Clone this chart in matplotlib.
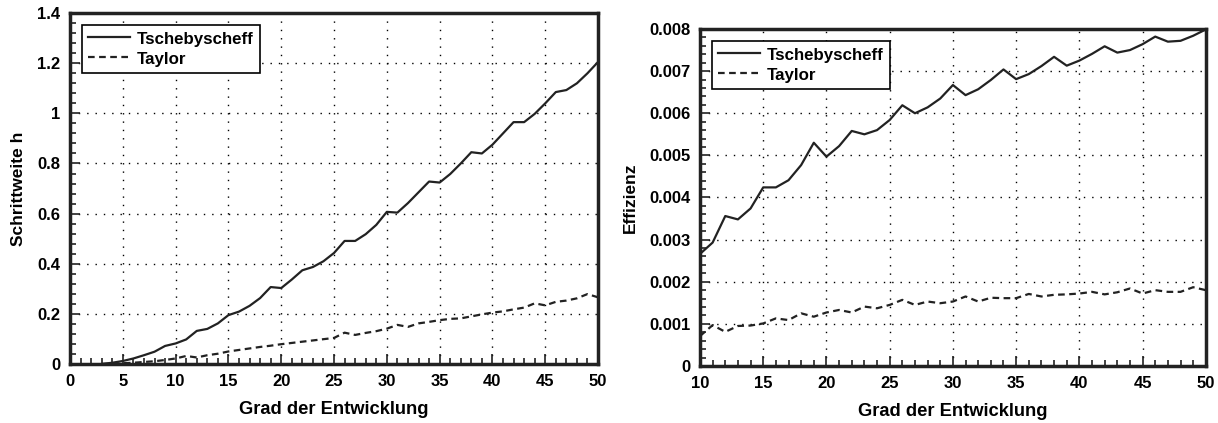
import matplotlib
matplotlib.use("Agg")
import matplotlib.pyplot as plt
from matplotlib.ticker import MultipleLocator

# Schrittweite h (links), Grad 3..50
n_h = list(range(3, 51))
tscheb_h = [0.0, 0.005, 0.012, 0.022, 0.035, 0.049, 0.072, 0.082, 0.098, 0.132,
            0.140, 0.162, 0.195, 0.209, 0.232, 0.263, 0.307, 0.303, 0.337, 0.374,
            0.387, 0.410, 0.443, 0.491, 0.491, 0.518, 0.555, 0.607, 0.604, 0.642,
            0.685, 0.728, 0.724, 0.758, 0.800, 0.845, 0.840, 0.875, 0.920, 0.965,
            0.965, 0.998, 1.040, 1.085, 1.093, 1.120, 1.160, 1.205]
taylor_h = [0.0, 0.001, 0.003, 0.005, 0.008, 0.011, 0.016, 0.022, 0.032, 0.026,
            0.035, 0.041, 0.050, 0.056, 0.062, 0.068, 0.073, 0.079, 0.084, 0.089,
            0.094, 0.099, 0.104, 0.125, 0.116, 0.124, 0.131, 0.141, 0.156, 0.148,
            0.162, 0.168, 0.175, 0.180, 0.182, 0.190, 0.198, 0.205, 0.210, 0.218,
            0.225, 0.242, 0.234, 0.248, 0.253, 0.262, 0.279, 0.266]

# Effizienz (rechts), Grad 10..50
n_e = list(range(10, 51))
tscheb_e = [2.66, 2.93, 3.56, 3.48, 3.74, 4.24, 4.24, 4.41, 4.77, 5.30,
            4.97, 5.22, 5.58, 5.50, 5.60, 5.84, 6.19, 6.00, 6.14, 6.35,
            6.67, 6.43, 6.57, 6.79, 7.04, 6.81, 6.93, 7.12, 7.34, 7.13,
            7.25, 7.41, 7.59, 7.44, 7.50, 7.64, 7.82, 7.70, 7.72, 7.84, 7.99]
taylor_e = [0.71, 0.97, 0.81, 0.95, 0.96, 1.01, 1.13, 1.09, 1.25, 1.17,
            1.27, 1.33, 1.27, 1.41, 1.37, 1.45, 1.57, 1.45, 1.53, 1.49,
            1.53, 1.65, 1.53, 1.62, 1.61, 1.61, 1.71, 1.65, 1.69, 1.70,
            1.72, 1.76, 1.70, 1.75, 1.84, 1.72, 1.80, 1.76, 1.76, 1.87, 1.80]
tscheb_e = [v * 1e-3 for v in tscheb_e]
taylor_e = [v * 1e-3 for v in taylor_e]

plt.rcParams['font.family'] = ['Liberation Sans', 'DejaVu Sans']
plt.rcParams['font.weight'] = 'bold'

fig = plt.figure(figsize=(12.18, 4.23), dpi=100)
ax1 = fig.add_axes([0.0575, 0.1395, 0.4335, 0.8295])
ax2 = fig.add_axes([0.5747, 0.1348, 0.4153, 0.7966])

col = '#222222'


def style(ax):
    for s in ax.spines.values():
        s.set_linewidth(2.5)
        s.set_color(col)
    ax.tick_params(which='both', direction='in', top=False, right=False,
                   labelsize=12, width=1.2, color=col, pad=7)
    ax.tick_params(which='major', length=7)
    ax.tick_params(which='minor', length=4)
    ax.grid(True, which='major', color='black', linestyle=(0, (1, 5)), linewidth=1)
    for lab in ax.get_xticklabels() + ax.get_yticklabels():
        lab.set_fontweight('bold')
    ax.set_xlabel('Grad der Entwicklung', fontsize=13.2, fontweight='bold', labelpad=9)
    leg = ax.legend(loc='upper left', prop={'weight': 'bold', 'size': 12.2,
                                            'family': ['Liberation Sans', 'DejaVu Sans']},
                    handlelength=2.5, borderaxespad=0.7, fancybox=False,
                    framealpha=1, edgecolor='black', borderpad=0.35,
                    labelspacing=0.25, handletextpad=0.4, handleheight=0.9)
    leg.get_frame().set_linewidth(1.2)


ax1.plot(n_h, tscheb_h, '-', color=col, lw=1.6, label='Tschebyscheff')
ax1.plot(n_h, taylor_h, color=col, lw=1.6, linestyle=(0, (3, 2)), label='Taylor')
ax1.set_xlim(0, 50)
ax1.set_ylim(0, 1.4)
ax1.xaxis.set_major_locator(MultipleLocator(5))
ax1.xaxis.set_minor_locator(MultipleLocator(1))
ax1.yaxis.set_major_locator(MultipleLocator(0.2))
ax1.yaxis.set_minor_locator(MultipleLocator(0.04))
ax1.set_yticks([0, 0.2, 0.4, 0.6, 0.8, 1, 1.2, 1.4])
ax1.set_yticklabels(['0', '0.2', '0.4', '0.6', '0.8', '1', '1.2', '1.4'])
ax1.set_ylabel('Schrittweite h', fontsize=12.5, fontweight='bold', labelpad=8)
style(ax1)

ax2.plot(n_e, tscheb_e, '-', color=col, lw=1.6, label='Tschebyscheff')
ax2.plot(n_e, taylor_e, color=col, lw=1.6, linestyle=(0, (3, 2)), label='Taylor')
ax2.set_xlim(10, 50)
ax2.set_ylim(0, 0.008)
ax2.xaxis.set_major_locator(MultipleLocator(5))
ax2.xaxis.set_minor_locator(MultipleLocator(1))
ax2.yaxis.set_major_locator(MultipleLocator(0.001))
ax2.yaxis.set_minor_locator(MultipleLocator(0.0002))
yt = [i * 0.001 for i in range(9)]
ax2.set_yticks(yt)
ax2.set_yticklabels(['0'] + ['%.3f' % v for v in yt[1:]])
ax2.set_ylabel('Effizienz', fontsize=12.5, fontweight='bold', labelpad=8)
style(ax2)

fig.savefig('out.png', dpi=100)
